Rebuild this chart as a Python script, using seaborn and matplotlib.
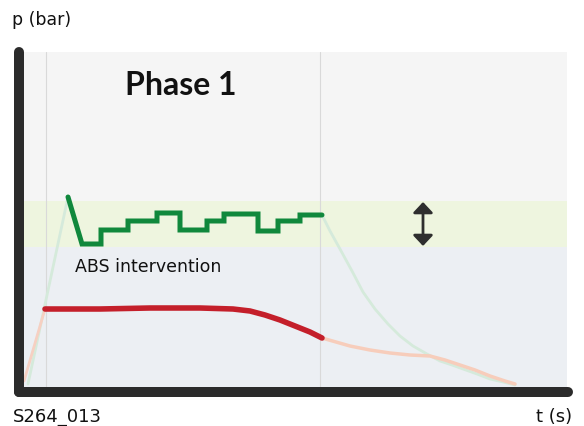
import matplotlib
matplotlib.use("Agg")
import matplotlib.pyplot as plt
import seaborn as sns
import pandas as pd

# ---- data (t in arbitrary time units, p in arbitrary pressure units) ----
abs_t = [50, 64, 83, 83, 110, 110, 139, 139, 162, 162, 189, 189, 206, 206,
         240, 240, 260, 260, 282, 282, 304]
abs_p = [190, 143, 143, 157, 157, 166, 166, 174, 174, 157, 157, 166, 166, 173,
         173, 156, 156, 166, 166, 172, 172]
green_rise_t = [10, 50]
green_rise_p = [3, 190]
green_decay_t = [304, 312, 322, 334, 345, 357, 370, 382, 395, 409, 422, 434,
                 445, 459, 472, 485, 497]
green_decay_p = [172, 156, 138, 116, 95, 78, 63, 51, 41, 33, 26, 22, 18, 13,
                 8, 5, 2]
red_rise_t = [6, 27]
red_rise_p = [6, 78]
red_t = [27, 82, 132, 182, 215, 232, 247, 262, 277, 292, 304]
red_p = [78, 78, 79, 79, 78, 76, 72, 67, 61, 55, 49]
salmon_t = [304, 318, 332, 352, 372, 392, 412, 427, 442, 457, 472, 487, 497]
salmon_p = [49, 45, 41, 37, 34, 32, 31, 27, 22, 17, 11, 6, 3]
band_low, band_high, top_p = 140, 186, 336
t_end = 549
phase_lines = [28, 302]
arrow_t, arrow_p0, arrow_p1 = 405, 185, 141

sns.set_style("white")
plt.rcParams['font.family'] = ['DejaVu Sans']

W, H = 584, 427
fig = plt.figure(figsize=(W / 100, H / 100), dpi=100)
ax = fig.add_axes([19 / W, (H - 393) / H, (568 - 19) / W, (393 - 53) / H])
ax.set_xlim(1, 550)
ax.set_ylim(-5, 335)

# backgrounds
ax.fill_between([1, t_end], band_high, top_p, color="#f5f5f5", lw=0, zorder=0)
ax.fill_between([1, t_end], band_low, band_high, color="#eef5df", lw=0, zorder=0)
ax.fill_between([1, t_end], -5, band_low, color="#eceff3", lw=0, zorder=0)
for x in phase_lines:
    ax.axvline(x, color="#d9d9d9", lw=0.8, zorder=1)

def line(t, p, color, lw, z):
    df = pd.DataFrame({"t": t, "p": p})
    sns.lineplot(data=df, x="t", y="p", sort=False, estimator=None, ax=ax,
                 color=color, lw=lw, zorder=z, solid_capstyle="round",
                 solid_joinstyle="miter")

line(green_rise_t, green_rise_p, "#d5eadb", 2.0, 2)
line(red_rise_t, red_rise_p, "#f6d0c2", 2.0, 2)
line(green_decay_t, green_decay_p, "#d5eadb", 2.0, 2)
line(salmon_t, salmon_p, "#f7cdbb", 2.5, 2)
line(red_t, red_p, "#c41f2a", 4.0, 3)
line(abs_t, abs_p, "#10883c", 3.6, 4)

ax.annotate("", xy=(arrow_t, arrow_p0), xytext=(arrow_t, arrow_p1),
            arrowprops=dict(arrowstyle="<|-|>,head_length=0.32,head_width=0.3",
                            color="#2e2e2e", lw=2.0,
                            mutation_scale=20, shrinkA=0, shrinkB=0), zorder=5)

ax.set_xticks([])
ax.set_yticks([])
ax.set_xlabel("")
ax.set_ylabel("")
for s in ["top", "right"]:
    ax.spines[s].set_visible(False)
for s in ["left", "bottom"]:
    ax.spines[s].set_linewidth(7.2)
    ax.spines[s].set_color("#2b2b2b")
    ax.spines[s].set_capstyle("round")
    ax.spines[s].set_zorder(6)

def ftext(px, py, s, **kw):
    fig.text(px / W, 1 - py / H, s, **kw)

ftext(12, 25, "p (bar)", fontsize=12.5, va="baseline", color="#111111")
ftext(125, 95, "Phase 1", fontsize=23, fontweight="bold", va="baseline",
      color="#111111", family=["Lato", "DejaVu Sans"])
ftext(75, 272, "ABS intervention", fontsize=12.5, va="baseline", color="#111111")
ftext(13, 422, "S264_013", fontsize=13, va="baseline", color="#111111")
ftext(572, 422, "t (s)", fontsize=13, va="baseline", ha="right", color="#111111")

fig.savefig("out.png", dpi=100, facecolor="white")
